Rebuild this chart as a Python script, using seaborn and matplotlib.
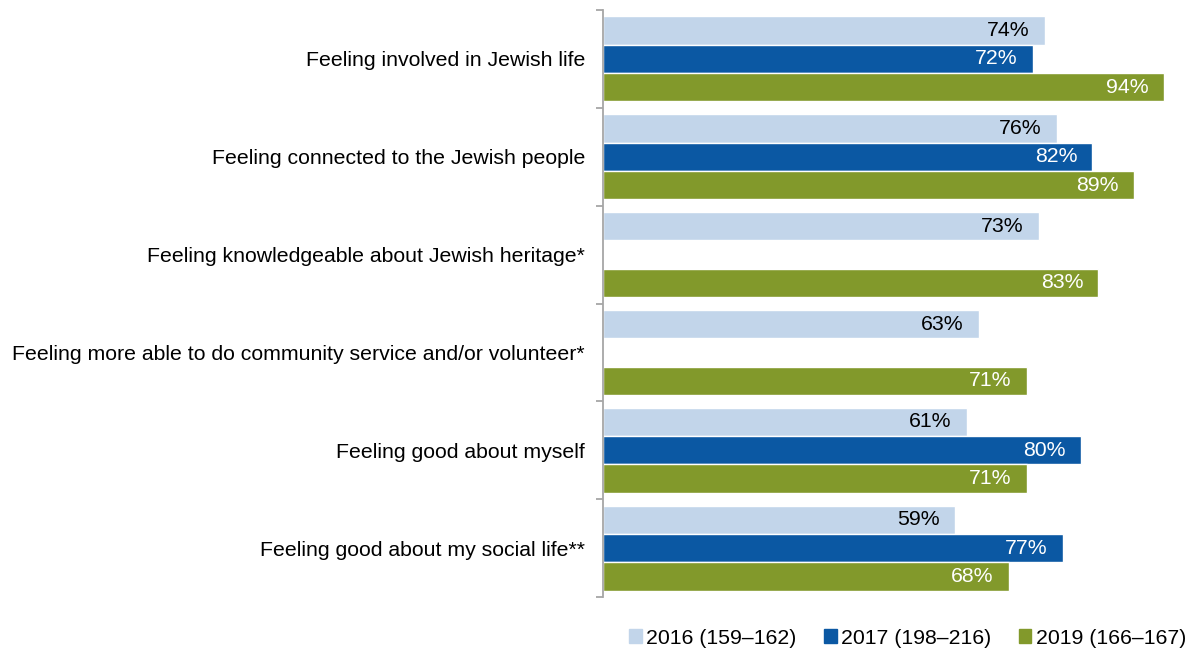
import numpy as np
import pandas as pd
import matplotlib
matplotlib.use("Agg")
import matplotlib.pyplot as plt
import seaborn as sns

categories = [
    "Feeling involved in Jewish life",
    "Feeling connected to the Jewish people",
    "Feeling knowledgeable about Jewish heritage*",
    "Feeling more able to do community service and/or volunteer*",
    "Feeling good about myself",
    "Feeling good about my social life**",
]
series_names = ["2016 (159\u2013162)", "2017 (198\u2013216)", "2019 (166\u2013167)"]
values_2016 = [74, 76, 73, 63, 61, 59]
values_2017 = [72, 82, np.nan, np.nan, 80, 77]
values_2019 = [94, 89, 83, 71, 71, 68]
colors = ["#C2D5EA", "#0B58A3", "#82992B"]
label_colors = ["#000000", "#FFFFFF", "#FFFFFF"]

rows = []
for name, vals in zip(series_names, [values_2016, values_2017, values_2019]):
    for cat, v in zip(categories, vals):
        rows.append({"category": cat, "series": name, "value": v})
df = pd.DataFrame(rows)

sns.set_theme(style="white")
plt.rcParams["font.family"] = ["Liberation Sans", "DejaVu Sans"]
plt.rcParams["text.color"] = "black"

FS = 15.3

fig = plt.figure(figsize=(11.91, 6.54), dpi=100)
ax = fig.add_axes([603 / 1191, 57 / 654, 585 / 1191, 587 / 654])

sns.barplot(
    data=df, y="category", x="value", hue="series",
    order=categories, hue_order=series_names,
    palette=colors, orient="h", width=0.87, saturation=1,
    errorbar=None, legend=False, ax=ax,
)

ax.set_xlim(0, 98)
ax.set_ylim(len(categories) - 0.5, -0.5)
ax.set_xlabel("")
ax.set_ylabel("")
ax.set_xticks([])

# value labels placed just inside the end of each bar
for container, vals, tc in zip(ax.containers, [values_2016, values_2017, values_2019], label_colors):
    present = [v for v in vals if not np.isnan(v)]
    for patch, v in zip(container.patches, present):
        y = patch.get_y() + patch.get_height() / 2
        ax.annotate(f"{v:.0f}%", xy=(v, y), xytext=(-11, 0),
                    textcoords="offset points", ha="right", va="center",
                    fontsize=FS, color=tc)

# category labels at group centres, tick marks at group boundaries
ax.set_yticks(range(len(categories)))
ax.set_yticklabels(categories, fontsize=FS, color="#000000")
ax.tick_params(axis="y", which="major", length=0, pad=13)
ax.set_yticks(np.arange(-0.5, len(categories), 1.0), minor=True)
ax.tick_params(axis="y", which="minor", length=5, width=1.3, color="#A6A6A6", left=True)

for side in ["top", "right", "bottom"]:
    ax.spines[side].set_visible(False)
ax.spines["left"].set_color("#A6A6A6")
ax.spines["left"].set_linewidth(1.3)

handles = [plt.Rectangle((0, 0), 1, 1, color=c) for c in colors]
fig.legend(handles, series_names, loc="center right",
           bbox_to_anchor=(1186 / 1191, 1 - 638 / 654),
           ncol=3, frameon=False, fontsize=FS, labelcolor="black",
           handlelength=0.6, handleheight=0.6, handletextpad=0.2,
           columnspacing=1.3, borderpad=0, borderaxespad=0)

fig.savefig("out.png", dpi=100)
